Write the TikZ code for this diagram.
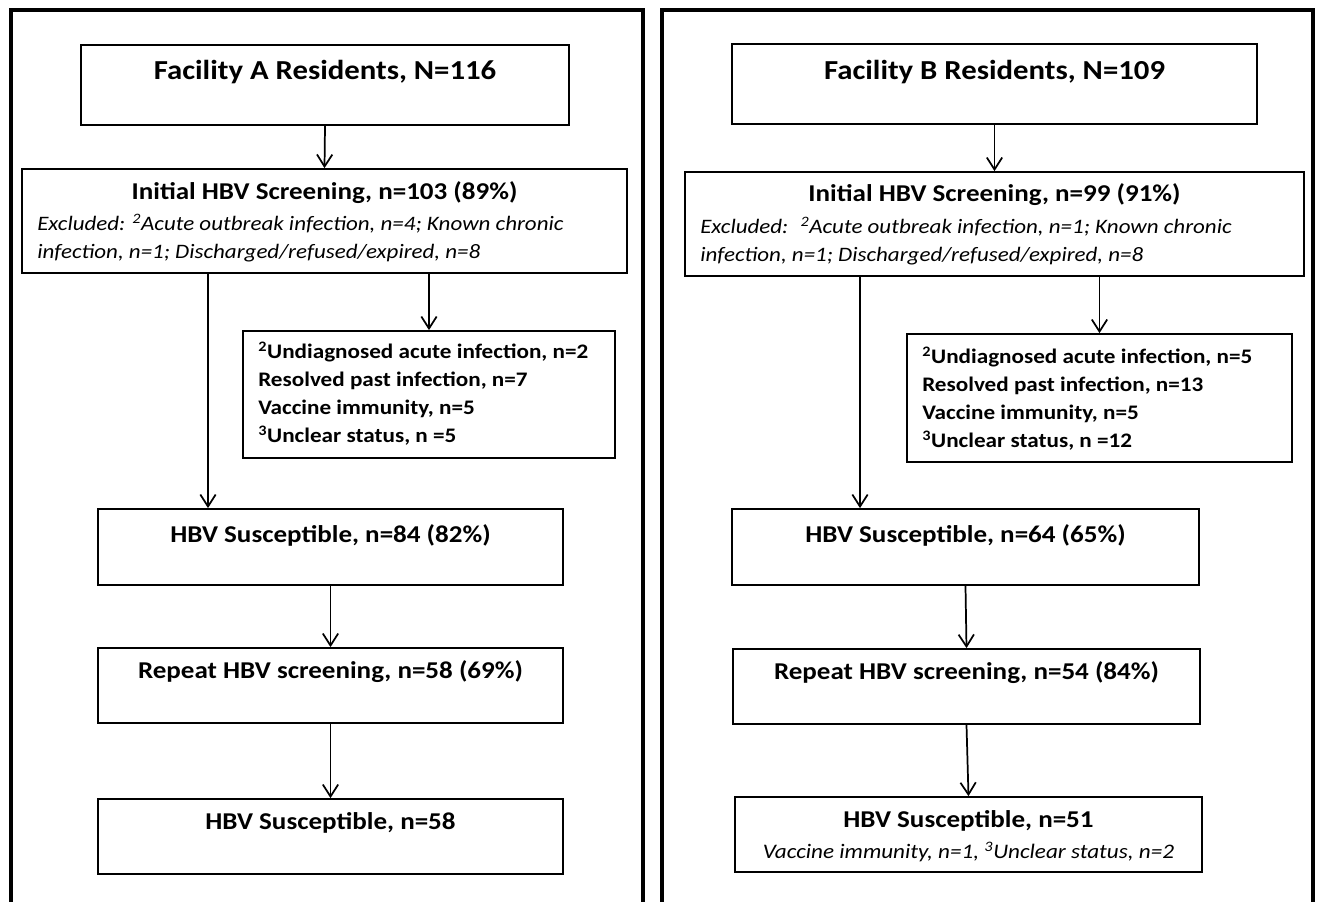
\documentclass[tikz,border=0pt]{standalone}
\usepackage{fontspec}
\setmainfont{Carlito}[FakeStretch=1.12]
\usetikzlibrary{arrows.meta}
\tikzset{
  box/.style={draw, line width=1.3pt, rectangle, inner sep=0pt},
  frame/.style={draw, line width=2.8pt},
  arr/.style={line width=1.3pt, -{Straight Barb[length=9pt,width=11.5pt,line width=1.3pt]}},
  ttl/.style={font=\bfseries\fontsize{20.6}{24}\selectfont, inner sep=0pt},
  hd/.style={font=\bfseries\fontsize{18.1}{21}\selectfont, inner sep=0pt},
  itl/.style={font=\itshape\fontsize{15.4}{21}\selectfont, align=left, anchor=north west, inner sep=0pt},
  lst/.style={font=\bfseries\fontsize{15.5}{21}\selectfont, align=left, anchor=north west, inner sep=0pt},
}
\begin{document}
\begin{tikzpicture}[x=0.75pt,y=-0.75pt]
\useasboundingbox (0,0) rectangle (1318,902);
% frames
\draw[frame] (11,904) -- (11,10) -- (643,10) -- (643,904);
\draw[frame] (662,904) -- (662,10) -- (1313,10) -- (1313,904);

% ---------- Left panel ----------
\node[box, minimum width=488*0.75pt, minimum height=80*0.75pt] (a1) at (325,85) {};
\node[ttl] (a1t) at (325,72) {Facility A Residents, N=116};
\node[box, minimum width=605*0.75pt, minimum height=104*0.75pt] (a2) at (324.5,221) {};
\node[hd] (a2t) at (324.5,193) {Initial HBV Screening, n=103 (89\%)};
\node[itl] (a2i) at (37,214) {Excluded: \textsuperscript{2}Acute outbreak infection, n=4; Known chronic\\infection, n=1; Discharged/refused/expired, n=8};
\node[box, minimum width=372*0.75pt, minimum height=127*0.75pt] (a3) at (429,394.5) {};
\node[lst] (a3t) at (258,342) {\textsuperscript{2}Undiagnosed acute infection, n=2\\Resolved past infection, n=7\\Vaccine immunity, n=5\\\textsuperscript{3}Unclear status, n =5};
\node[box, minimum width=465*0.75pt, minimum height=76*0.75pt] (a4) at (330.5,547) {};
\node[hd] (a4t) at (330.5,535) {HBV Susceptible, n=84 (82\%)};
\node[box, minimum width=465*0.75pt, minimum height=75*0.75pt] (a5) at (330.5,685.5) {};
\node[hd] (a5t) at (330.5,672) {Repeat HBV screening, n=58 (69\%)};
\node[box, minimum width=465*0.75pt, minimum height=75*0.75pt] (a6) at (330.5,836.5) {};
\node[hd] (a6t) at (330.5,823) {HBV Susceptible, n=58};

\draw[arr] (a1.south) -- (a2.north);
\draw[arr] (a2.south -| 208,0) -- (a4.north -| 208,0);
\draw[arr] (a2.south -| a3.north) -- (a3.north);
\draw[arr] (a4.south) -- (a5.north);
\draw[arr] (a5.south) -- (a6.north);

% ---------- Right panel ----------
\node[box, minimum width=525*0.75pt, minimum height=80*0.75pt] (b1) at (994.5,84) {};
\node[ttl] (b1t) at (994.5,72) {Facility B Residents, N=109};
\node[box, minimum width=619*0.75pt, minimum height=104*0.75pt] (b2) at (994.5,224) {};
\node[hd] (b2t) at (994.5,195) {Initial HBV Screening, n=99 (91\%)};
\node[itl] (b2i) at (700,217) {Excluded: \ \textsuperscript{2}Acute outbreak infection, n=1; Known chronic\\infection, n=1; Discharged/refused/expired, n=8};
\node[box, minimum width=385*0.75pt, minimum height=128*0.75pt] (b3) at (1099.5,398) {};
\node[lst] (b3t) at (922,347) {\textsuperscript{2}Undiagnosed acute infection, n=5\\Resolved past infection, n=13\\Vaccine immunity, n=5\\\textsuperscript{3}Unclear status, n =12};
\node[box, minimum width=467*0.75pt, minimum height=76*0.75pt] (b4) at (965.5,547) {};
\node[hd] (b4t) at (965.5,535) {HBV Susceptible, n=64 (65\%)};
\node[box, minimum width=467*0.75pt, minimum height=75*0.75pt] (b5) at (966.5,686.5) {};
\node[hd] (b5t) at (966.5,673) {Repeat HBV screening, n=54 (84\%)};
\node[box, minimum width=467*0.75pt, minimum height=75*0.75pt] (b6) at (968.5,834.5) {};
\node[hd] (b6t) at (968.5,821) {HBV Susceptible, n=51};
\node[font=\itshape\fontsize{15.5}{18}\selectfont, inner sep=0pt] (b6i) at (968.5,852) {Vaccine immunity, n=1, \textsuperscript{3}Unclear status, n=2};

\draw[arr] (b1.south) -- (b2.north);
\draw[arr] (b2.south -| 860,0) -- (b4.north -| 860,0);
\draw[arr] (b2.south -| b3.north) -- (b3.north);
\draw[arr] (b4.south) -- (b5.north);
\draw[arr] (b5.south) -- (b6.north);
\end{tikzpicture}
\end{document}
